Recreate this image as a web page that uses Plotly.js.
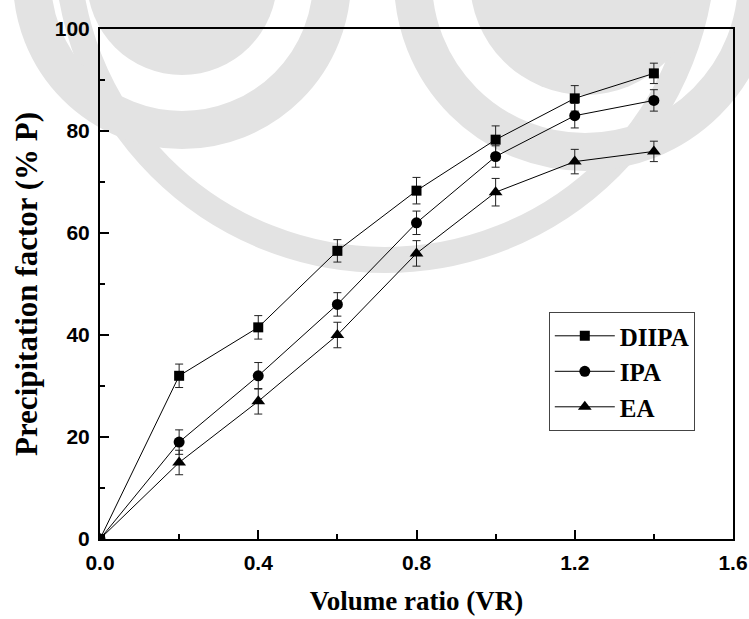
<!DOCTYPE html>
<html>
<head>
<meta charset="utf-8">
<script src="https://cdn.plot.ly/plotly-3.0.1.min.js"></script>
<style>html,body{margin:0;padding:0;background:#fff;}#chart{width:749px;height:619px;}</style>
</head>
<body>
<div id="chart"></div>
<script>
const volumeRatio = [0, 0.2, 0.4, 0.6, 0.8, 1.0, 1.2, 1.4];
const diipa = [0, 32, 41.5, 56.5, 68.3, 78.3, 86.4, 91.3];
const diipaErr = [0, 2.3, 2.3, 2.2, 2.6, 2.7, 2.5, 2.0];
const ipa = [0, 19, 32, 46, 62, 75, 83, 86];
const ipaErr = [0, 2.4, 2.6, 2.3, 2.3, 2.1, 2.4, 2.1];
const ea = [0, 15, 27, 40, 56, 68, 74, 76];
const eaErr = [0, 2.4, 2.5, 2.5, 2.5, 2.7, 2.4, 2.0];
const seriesNames = ['DIIPA', 'IPA', 'EA'];
const xTickVals = [0, 0.4, 0.8, 1.2, 1.6];
const xTickLabels = ['0.0', '0.4', '0.8', '1.2', '1.6'];
const yTickVals = [0, 20, 40, 60, 80, 100];
const yTickLabels = ['0', '20', '40', '60', '80', '100'];

const bold = s => '<b>' + s + '</b>';

function trace(name, y, err, symbol, size) {
  return {
    x: volumeRatio, y: y, name: bold(name), type: 'scatter', mode: 'lines+markers',
    line: {color: '#000', width: 1},
    marker: {symbol: symbol, size: size, color: '#000'},
    error_y: {type: 'data', array: err, visible: true, color: '#222', thickness: 1, width: 4}
  };
}
const data = [
  trace(seriesNames[0], diipa, diipaErr, 'square', 10),
  trace(seriesNames[1], ipa, ipaErr, 'circle', 11),
  trace(seriesNames[2], ea, eaErr, 'triangle-up', 12)
];

const tickFont = {family: 'Liberation Sans, Arial, sans-serif', size: 21, color: '#000'};
const serif = 'Liberation Serif, Times New Roman, serif';

// faint background watermark (approximate), pixel -> paper conversion
const PL = 100, PW = 633, PB = 539, PH = 510;
const WM = '#e3e3e3';
function circ(cx, cy, r, filled, w) {
  return {
    type: 'circle', xref: 'paper', yref: 'paper', layer: 'below',
    x0: (cx - r - PL) / PW, x1: (cx + r - PL) / PW,
    y0: (PB - (cy + r)) / PH, y1: (PB - (cy - r)) / PH,
    fillcolor: filled ? WM : 'rgba(0,0,0,0)',
    line: {color: WM, width: filled ? 0 : w}
  };
}
const shapes = [
  circ(385, -58, 318, false, 26),
  circ(182, -20, 95, true, 0),
  circ(182, -20, 150, false, 38),
  circ(585, -20, 115, true, 0),
  circ(585, -20, 172, false, 38)
];

const layout = {
  width: 749, height: 619,
  margin: {l: 100, r: 16, t: 29, b: 80},
  paper_bgcolor: '#fff', plot_bgcolor: 'rgba(0,0,0,0)',
  shapes: shapes,
  showlegend: true,
  legend: {
    x: 0.709, y: 0.445, xanchor: 'left', yanchor: 'top',
    bgcolor: '#fff', bordercolor: '#444', borderwidth: 1,
    font: {family: serif, size: 25, color: '#000'},
    itemwidth: 60, tracegroupgap: 0
  },
  xaxis: {
    range: [0, 1.6], tickvals: xTickVals, ticktext: xTickLabels.map(bold),
    ticks: 'inside', ticklen: 9, tickwidth: 1.5, tickcolor: '#000',
    minor: {dtick: 0.2, tick0: 0, ticks: 'inside', ticklen: 5, tickwidth: 1.5, tickcolor: '#000'},
    showline: true, linecolor: '#000', linewidth: 2, mirror: true,
    showgrid: false, zeroline: false, ticklabelstandoff: 4,
    tickfont: tickFont,
    title: {text: bold('Volume ratio (VR)'), font: {family: serif, size: 27, color: '#000'}, standoff: 18}
  },
  yaxis: {
    range: [0, 100], tickvals: yTickVals, ticktext: yTickLabels.map(bold),
    ticks: 'inside', ticklen: 9, tickwidth: 1.5, tickcolor: '#000',
    minor: {dtick: 10, tick0: 0, ticks: 'inside', ticklen: 5, tickwidth: 1.5, tickcolor: '#000'},
    showline: true, linecolor: '#000', linewidth: 2, mirror: true,
    showgrid: false, zeroline: false, ticklabelstandoff: 4,
    tickfont: tickFont,
    title: {text: bold('Precipitation factor (% P)'), font: {family: serif, size: 31, color: '#000'}, standoff: 8}
  }
};

Plotly.newPlot('chart', data, layout, {displayModeBar: false});
</script>
</body>
</html>
